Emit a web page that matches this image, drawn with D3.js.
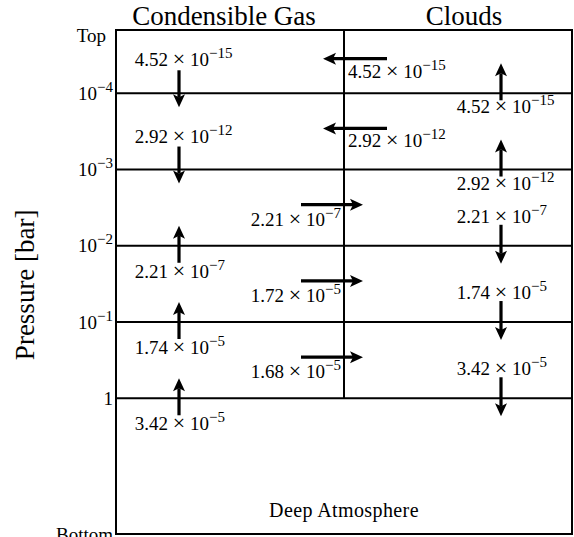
<!DOCTYPE html>
<html>
<head>
<meta charset="utf-8">
<script src="https://cdn.jsdelivr.net/npm/d3@7"></script>
<style>
  body { margin: 0; background: #fff; }
  svg { display: block; }
  text { font-family: 'Liberation Serif', 'DejaVu Serif', serif; fill: #000; }
</style>
</head>
<body>
<script>
const W = 574;
const H = 537;
const box = { left: 116, right: 572, top: 30, bottom: 534 };

// data
const columns = ['Condensible Gas', 'Clouds'];
const topP = Math.pow(10, -4.83);
const bottomP = Math.pow(10, 1.78);
const levelPressures = [topP, 1e-4, 1e-3, 1e-2, 1e-1, 1, bottomP];
const levelLabels = ['Top', '10^−4', '10^−3', '10^−2', '10^−1', '1', 'Bottom'];
const boundaryPressures = [1e-4, 1e-3, 1e-2, 1e-1, 1];

const gasMantissa = ['4.52', '2.92', '2.21', '1.74', '3.42'];
const gasExponent = [-15, -12, -7, -5, -5];
const gasDirection = ['down', 'down', 'up', 'up', 'up'];

const cloudMantissa = ['4.52', '2.92', '2.21', '1.74', '3.42'];
const cloudExponent = [-15, -12, -7, -5, -5];
const cloudDirection = ['up', 'up', 'down', 'down', 'down'];

const exchangeMantissa = ['4.52', '2.92', '2.21', '1.72', '1.68'];
const exchangeExponent = [-15, -12, -7, -5, -5];
const exchangeDirection = ['left', 'left', 'right', 'right', 'right'];

const svg = d3.select('body').append('svg')
	.attr('width', W)
	.attr('height', H);

const y = d3.scaleLog()
	.domain([topP, bottomP])
	.range([box.top, box.bottom]);

const x = d3.scaleBand()
	.domain(columns)
	.range([box.left, box.right]);

const midX = x('Clouds');
const gasX = x('Condensible Gas') + 63;
const cloudX = x('Clouds') + 157;

// frame and layer lines
svg.append('rect')
	.attr('x', box.left)
	.attr('y', box.top)
	.attr('width', box.right - box.left)
	.attr('height', box.bottom - box.top)
	.attr('fill', 'none')
	.attr('stroke', '#000')
	.attr('stroke-width', 2);

svg.selectAll('.layer')
	.data(boundaryPressures)
	.enter()
	.append('line')
	.attr('class', 'layer')
	.attr('x1', box.left)
	.attr('x2', box.right)
	.attr('y1', (d) => y(d))
	.attr('y2', (d) => y(d))
	.attr('stroke', '#000')
	.attr('stroke-width', 2);

svg.append('line')
	.attr('x1', midX)
	.attr('x2', midX)
	.attr('y1', box.top)
	.attr('y2', y(1))
	.attr('stroke', '#000')
	.attr('stroke-width', 2);

// column titles
svg.selectAll('.title')
	.data(columns)
	.enter()
	.append('text')
	.attr('class', 'title')
	.attr('x', (d, i) => x(d) + x.bandwidth() / 2 + (i === 0 ? -6 : 6))
	.attr('y', 25)
	.attr('text-anchor', 'middle')
	.style('font-size', '27px')
	.text((d) => d);

// y axis
const yAxis = d3.axisLeft(y)
	.tickValues(levelPressures)
	.tickSize(0)
	.tickPadding(3)
	.tickFormat(() => '');

const axisG = svg.append('g')
	.attr('transform', 'translate(' + box.left + ',0)')
	.call(yAxis);

axisG.select('.domain').remove();
axisG.attr('font-family', null).attr('font-size', null);
axisG.selectAll('.tick text')
	.style('font-size', '19px')
	.each(function (d, i) {
		const t = d3.select(this);
		const parts = levelLabels[i].split('^');
		t.append('tspan').text(parts[0]);
		if (parts[1]) {
			t.append('tspan').attr('dy', -8).style('font-size', '15px').text(parts[1]);
		}
		if (i === 0) t.attr('dy', '0.6em').attr('x', -10);
	});

svg.append('text')
	.attr('transform', 'translate(34,' + (y(1e-2) + 39) + ') rotate(-90)')
	.attr('text-anchor', 'middle')
	.style('font-size', '27px')
	.text('Pressure [bar]');

svg.append('text')
	.attr('x', midX)
	.attr('y', 517)
	.attr('text-anchor', 'middle')
	.style('font-size', '20px')
	.style('letter-spacing', '0.4px')
	.text('Deep Atmosphere');

// helpers
function arrow(g, x1, y1, x2, y2) {
	const len = Math.hypot(x2 - x1, y2 - y1);
	const ux = (x2 - x1) / len;
	const uy = (y2 - y1) / len;
	const nx = -uy;
	const ny = ux;
	const hl = 13;
	const hw = 6;
	g.append('line')
		.attr('x1', x1)
		.attr('y1', y1)
		.attr('x2', x2 - ux * (hl - 3))
		.attr('y2', y2 - uy * (hl - 3))
		.attr('stroke', '#000')
		.attr('stroke-width', 3.2);
	const p = d3.path();
	p.moveTo(x2, y2);
	p.lineTo(x2 - ux * hl + nx * hw, y2 - uy * hl + ny * hw);
	p.lineTo(x2 - ux * (hl - 3), y2 - uy * (hl - 3));
	p.lineTo(x2 - ux * hl - nx * hw, y2 - uy * hl - ny * hw);
	p.closePath();
	g.append('path').attr('d', p.toString()).attr('fill', '#000');
}

// anchor: 'times' centres the × on xPos, 'start' and 'end' align the whole label
function sciLabel(g, xPos, yPos, mant, exp, anchor) {
	const t = g.append('text')
		.attr('x', 0)
		.attr('y', yPos)
		.style('font-size', '19px');
	const a = t.append('tspan').text(mant + ' ');
	const times = t.append('tspan').style('font-size', '22px').text('×');
	t.append('tspan').text(' 10');
	t.append('tspan').attr('dy', -8).style('font-size', '15px').text('−' + Math.abs(exp));
	let shift = xPos;
	if (anchor === 'times') {
		shift = xPos - a.node().getComputedTextLength() - times.node().getComputedTextLength() / 2;
	} else if (anchor === 'end') {
		shift = xPos - t.node().getComputedTextLength();
	}
	t.attr('x', shift);
}

const marks = svg.append('g');

// condensible gas fluxes
boundaryPressures.forEach((b, i) => {
	const by = y(b);
	if (gasDirection[i] === 'down') {
		arrow(marks, gasX, by - 23, gasX, by + 14);
		sciLabel(marks, gasX, by - 27, gasMantissa[i], gasExponent[i], 'times');
	} else {
		arrow(marks, gasX, by + 17, gasX, by - 20);
		sciLabel(marks, gasX, by + 32, gasMantissa[i], gasExponent[i], 'times');
	}
});

// cloud fluxes
boundaryPressures.forEach((b, i) => {
	const by = y(b);
	if (cloudDirection[i] === 'up') {
		arrow(marks, cloudX, by + 7, cloudX, by - 30);
		sciLabel(marks, cloudX, by + 20, cloudMantissa[i], cloudExponent[i], 'times');
	} else {
		arrow(marks, cloudX, by - 21, cloudX, by + 18);
		sciLabel(marks, cloudX, by - 23, cloudMantissa[i], cloudExponent[i], 'times');
	}
});

// gas <-> cloud exchange in each layer
exchangeDirection.forEach((dir, i) => {
	const ry = (y(levelPressures[i]) + y(levelPressures[i + 1])) / 2 - 3;
	if (dir === 'left') {
		arrow(marks, midX + 43, ry, midX - 21, ry);
		sciLabel(marks, midX + 4, ry + 19, exchangeMantissa[i], exchangeExponent[i], 'start');
	} else {
		arrow(marks, midX - 43, ry, midX + 19, ry);
		sciLabel(marks, midX - 3, ry + 21, exchangeMantissa[i], exchangeExponent[i], 'end');
	}
});
</script>
</body>
</html>
